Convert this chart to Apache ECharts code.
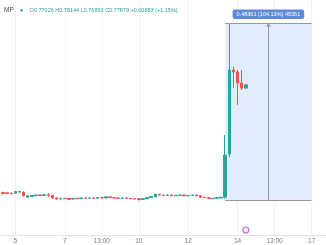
<!DOCTYPE html>
<html>
<head>
<meta charset="utf-8">
<script src="https://cdn.jsdelivr.net/npm/echarts@6/dist/echarts.min.js"></script>
<style>
  html, body { margin: 0; padding: 0; background: #fff; }
  #chart { width: 326px; height: 245px; }
</style>
</head>
<body>
<div id="chart"></div>
<script>
// 4h bars, first slot is day 4 13:00
const days = [4, 5, 6, 7, 8, 9, 10, 11, 12, 13, 14, 15, 16, 17]
const hours = ['01:00', '05:00', '09:00', '13:00', '17:00', '21:00']
const slotCount = 79
const categories = []
days.forEach((d) => hours.forEach((h) => categories.push(d + ' ' + h)))
categories.splice(0, 3)
categories.length = slotCount

const tickLabels = {
  '5 01:00': '5',
  '7 01:00': '7',
  '8 13:00': '13:00',
  '10 01:00': '10',
  '12 01:00': '12',
  '14 01:00': '14',
  '15 13:00': '13:00',
  '17 01:00': '17'
}

const opens = [
  0.485, 0.484, 0.483, 0.483, 0.488, 0.486, 0.472, 0.474, 0.476, 0.478,
  0.477, 0.479, 0.477, 0.470, 0.467, 0.469, 0.469, 0.467, 0.469, 0.468,
  0.470, 0.469, 0.470, 0.469, 0.471, 0.470, 0.473, 0.471, 0.470, 0.469,
  0.470, 0.469, 0.468, 0.468, 0.466, 0.468, 0.471, 0.473, 0.480, 0.478,
  0.477, 0.478, 0.476, 0.477, 0.478, 0.476, 0.477, 0.478, 0.476, 0.472,
  0.471, 0.468, 0.469, 0.470, 0.472, 0.590, 0.8196, 0.814, 0.784, 0.77026
]
const closes = [
  0.482, 0.482, 0.482, 0.488, 0.486, 0.476, 0.476, 0.477, 0.478, 0.477,
  0.479, 0.477, 0.470, 0.467, 0.469, 0.468, 0.466, 0.469, 0.468, 0.470,
  0.469, 0.470, 0.469, 0.471, 0.470, 0.473, 0.471, 0.470, 0.469, 0.470,
  0.469, 0.468, 0.467, 0.465, 0.468, 0.471, 0.474, 0.480, 0.478, 0.477,
  0.478, 0.476, 0.477, 0.478, 0.476, 0.477, 0.478, 0.476, 0.472, 0.471,
  0.469, 0.469, 0.471, 0.472, 0.587, 0.8196, 0.814, 0.784, 0.7703, 0.77879
]
const lows = [
  0.480, 0.481, 0.480, 0.482, 0.484, 0.474, 0.470, 0.473, 0.475, 0.476,
  0.476, 0.473, 0.468, 0.465, 0.466, 0.467, 0.4645, 0.466, 0.467, 0.467,
  0.468, 0.468, 0.468, 0.468, 0.469, 0.469, 0.470, 0.469, 0.468, 0.468,
  0.468, 0.467, 0.466, 0.46443, 0.465, 0.467, 0.470, 0.472, 0.477, 0.476,
  0.476, 0.475, 0.475, 0.476, 0.475, 0.475, 0.476, 0.475, 0.471, 0.470,
  0.468, 0.467, 0.468, 0.469, 0.468, 0.582, 0.770, 0.724, 0.765, 0.76893
]
const highs = [
  0.487, 0.486, 0.485, 0.489, 0.489, 0.488, 0.477, 0.478, 0.479, 0.479,
  0.480, 0.483, 0.478, 0.472, 0.470, 0.470, 0.470, 0.470, 0.470, 0.471,
  0.471, 0.471, 0.471, 0.472, 0.472, 0.474, 0.474, 0.472, 0.471, 0.471,
  0.471, 0.470, 0.469, 0.469, 0.469, 0.472, 0.475, 0.481, 0.481, 0.479,
  0.479, 0.479, 0.478, 0.479, 0.479, 0.478, 0.479, 0.479, 0.477, 0.473,
  0.472, 0.470, 0.472, 0.473, 0.642, 0.94804, 0.828, 0.8196, 0.8196, 0.78144
]

// price range tool
const rangeLow = 0.46443
const rangeHigh = 0.94804
const rangeStart = 54
const rangeEnd = 75
const eventSlot = 59
const eventLevel = 0.3824

const last = opens.length - 1
const upColor = '#26a69a'
const downColor = '#ef5350'
const diff = rangeHigh - rangeLow
const rangeText = diff.toFixed(5) + ' (' + (diff / rangeLow * 100).toFixed(2) + '%) ' + Math.round(diff * 100000)

function fmt(v) { return v.toFixed(5) }
const header =
  '{s|MP}    {dot|●}    ' +
  '{k|O}{v|' + fmt(opens[last]) + '} {k|H}{v|' + fmt(highs[last]) + '} ' +
  '{k|L}{v|' + fmt(lows[last]) + '} {k|C}{v|' + fmt(closes[last]) + '} ' +
  '{v|+0.00883 (+1.15%)}'

const chart = echarts.init(document.getElementById('chart'))
chart.setOption({
  animation: false,
  textStyle: { fontFamily: 'Liberation Sans, Arial, sans-serif' },
  title: {
    text: header,
    left: -1,
    top: 2,
    textStyle: {
      fontSize: 5.5,
      fontWeight: 'normal',
      rich: {
        s: { fontSize: 6.5, color: '#4a4e5a', fontWeight: 'normal' },
        dot: { fontSize: 6, color: upColor },
        k: { fontSize: 5.5, color: '#787b86', fontWeight: 'normal' },
        v: { fontSize: 5.5, color: upColor, fontWeight: 'normal' }
      }
    }
  },
  grid: { left: 1, right: 0, top: 0, bottom: 10 },
  xAxis: [
    {
      type: 'category',
      data: categories,
      boundaryGap: true,
      axisLine: { show: true, lineStyle: { color: '#e0e3eb' } },
      axisTick: { show: false },
      axisLabel: {
        interval: (i, v) => !!tickLabels[v],
        formatter: (v) => tickLabels[v] || '',
        color: '#787b86',
        fontSize: 6.5,
        margin: 3
      },
      splitLine: {
        show: true,
        alignWithLabel: true,
        interval: (i, v) => !!tickLabels[v],
        lineStyle: { color: '#f0f3fa' }
      }
    },
    { type: 'value', min: -0.5, max: slotCount - 0.5, show: false }
  ],
  yAxis: {
    type: 'value',
    min: 0.3688,
    max: 1.0108,
    show: false,
    splitLine: { show: false }
  },
  series: [
    {
      type: 'line',
      xAxisIndex: 1,
      data: [[rangeStart, rangeLow]],
      symbol: 'none',
      lineStyle: { width: 0 },
      z: 1,
      silent: true,
      markArea: {
        silent: true,
        itemStyle: { color: '#e3ecfc' },
        label: {
          show: true,
          position: 'top',
          distance: 4,
          formatter: rangeText,
          color: '#fff',
          fontSize: 5.5,
          backgroundColor: '#5d8bd8',
          borderRadius: 2,
          padding: [2, 4, 1.5, 4]
        },
        data: [[{ coord: [rangeStart, rangeHigh] }, { coord: [rangeEnd, rangeLow] }]]
      },
      markLine: {
        silent: true,
        symbol: 'none',
        label: { show: false },
        lineStyle: { color: '#9598a1', width: 1, type: 'solid' },
        data: [
          [{ coord: [rangeStart, rangeHigh] }, { coord: [rangeEnd, rangeHigh] }],
          [{ coord: [rangeStart, rangeLow] }, { coord: [rangeEnd, rangeLow] }],
          [
            { coord: [(rangeStart + rangeEnd) / 2, rangeLow] },
            { coord: [(rangeStart + rangeEnd) / 2, rangeHigh], symbol: 'arrow', symbolSize: 4 }
          ]
        ]
      }
    },
    {
      type: 'candlestick',
      barWidth: 3,
      z: 3,
      data: opens.map((o, i) => [o, closes[i], lows[i], highs[i]]),
      itemStyle: {
        color: upColor,
        color0: downColor,
        borderColor: upColor,
        borderColor0: downColor,
        borderWidth: 1
      }
    },
    {
      type: 'scatter',
      z: 4,
      data: [[eventSlot, eventLevel]],
      symbol: 'circle',
      symbolSize: 6,
      itemStyle: { color: '#f6e9fb', borderColor: '#b24fd6', borderWidth: 1.2 }
    }
  ]
})
</script>
</body>
</html>
